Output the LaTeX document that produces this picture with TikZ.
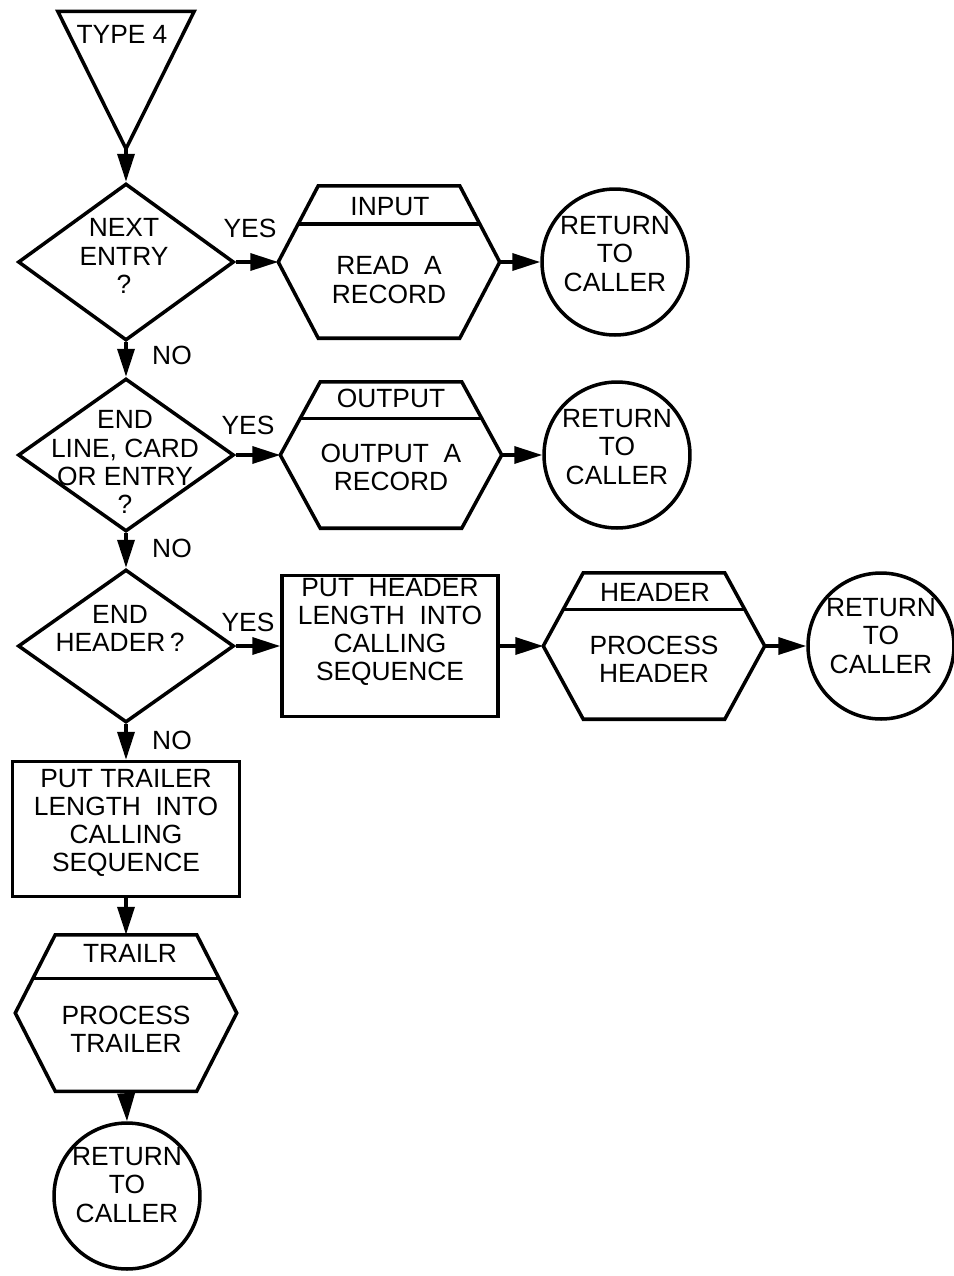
\documentclass[tikz,border=0pt]{standalone}
\usepackage{fontspec}
\setmainfont{Liberation Sans}
\usetikzlibrary{shapes.geometric,arrows.meta,calc}

\begin{document}
\begin{tikzpicture}[x=0.02cm,y=-0.02cm,line width=2pt,
    font=\fontsize{15}{16}\selectfont,
    shell/.style={rectangle,inner sep=0pt},
    decision/.style={diamond,draw,inner sep=0pt,minimum width=4.32cm},
    proc/.style={rectangle,draw,inner sep=0pt},
    ret/.style={circle,draw,inner sep=0pt,minimum size=2.92cm},
    txt/.style={align=center,inner sep=0pt},
    arr/.style={-{Triangle[length=0.56cm,width=0.34cm]}}]
\useasboundingbox (0,0) rectangle (954,1276);

% start
\node[shell,minimum width=2.66cm,minimum height=2.68cm] (t4) at (126,80) {};
\draw (t4.north west) -- (t4.north east) -- (t4.south) -- cycle;
\node[txt] (t4-txt) at (122,34) {TYPE 4};

% decisions
\node[decision,minimum height=3.14cm] (d1) at (126,262) {};
\node[txt] (d1-txt) at (124,256) {NEXT\\ENTRY\\?};
\node[decision,minimum height=3.06cm] (d2) at (126,455) {};
\node[txt] (d2-txt) at (125,462) {END\\LINE, CARD\\OR ENTRY\\?};
\node[decision,minimum height=3.06cm] (d3) at (126,646) {};
\node[txt] (d3-txt) at (120,628) {END\\HEADER\,?};

\node[txt] (yes1) at (250,228) {YES};
\node[txt] (yes2) at (248,425) {YES};
\node[txt] (yes3) at (248,622) {YES};
\node[txt] (no1) at (172,355) {NO};
\node[txt] (no2) at (172,548) {NO};
\node[txt] (no3) at (172,740) {NO};

% input
\node[shell,minimum width=4.36cm,minimum height=2.98cm] (input) at (389,262) {};
\draw (input.west) -- ([xshift=0.8cm]input.north west) -- ([xshift=-0.8cm]input.north east)
  -- (input.east) -- ([xshift=-0.8cm]input.south east) -- ([xshift=0.8cm]input.south west) -- cycle;
\draw ($(input.west)!0.5!([xshift=0.8cm]input.north west)$) -- ($(input.east)!0.5!([xshift=-0.8cm]input.north east)$);
\node[txt] (input-hd) at (390,207) {INPUT};
\node[txt] (input-txt) at (389,280) {READ\ \ A\\RECORD};
\node[ret] (r1) at (615,262) {};
\node[txt] (r1-txt) at (615,254) {RETURN\\TO\\CALLER};

% output
\node[shell,minimum width=4.36cm,minimum height=2.86cm] (output) at (391,455) {};
\draw (output.west) -- ([xshift=0.8cm]output.north west) -- ([xshift=-0.8cm]output.north east)
  -- (output.east) -- ([xshift=-0.8cm]output.south east) -- ([xshift=0.8cm]output.south west) -- cycle;
\draw ($(output.west)!0.5!([xshift=0.8cm]output.north west)$) -- ($(output.east)!0.5!([xshift=-0.8cm]output.north east)$);
\node[txt] (output-hd) at (391,398) {OUTPUT};
\node[txt] (output-txt) at (391,467) {OUTPUT\ \ A\\RECORD};
\node[ret] (r2) at (617,455) {};
\node[txt] (r2-txt) at (617,447) {RETURN\\TO\\CALLER};

% header
\node[proc,minimum width=4.32cm,minimum height=2.82cm] (hdrlen) at (390,646) {};
\node[txt] (hdrlen-txt) at (390,632) {PUT\ \ HEADER\\LENGTH\ \ INTO\\CALLING\\SEQUENCE};
\node[shell,minimum width=4.36cm,minimum height=2.86cm] (header) at (654,646) {};
\draw (header.west) -- ([xshift=0.8cm]header.north west) -- ([xshift=-0.8cm]header.north east)
  -- (header.east) -- ([xshift=-0.8cm]header.south east) -- ([xshift=0.8cm]header.south west) -- cycle;
\draw ($(header.west)!0.5!([xshift=0.8cm]header.north west)$) -- ($(header.east)!0.5!([xshift=-0.8cm]header.north east)$);
\node[txt] (header-hd) at (655,592) {HEADER};
\node[txt] (header-txt) at (654,659) {PROCESS\\HEADER};
\node[ret] (r3) at (881,646) {};
\node[txt] (r3-txt) at (881,636) {RETURN\\TO\\CALLER};

% trailer
\node[proc,minimum width=4.54cm,minimum height=2.7cm] (trllen) at (126,829) {};
\node[txt] (trllen-txt) at (126,823) {PUT TRAILER\\LENGTH\ \ INTO\\CALLING\\SEQUENCE};
\node[shell,minimum width=4.36cm,minimum height=3.06cm] (trailr) at (126,1013) {};
\draw (trailr.west) -- ([xshift=0.8cm]trailr.north west) -- ([xshift=-0.8cm]trailr.north east)
  -- (trailr.east) -- ([xshift=-0.8cm]trailr.south east) -- ([xshift=0.8cm]trailr.south west) -- cycle;
\draw ($(trailr.west)!0.44!([xshift=0.8cm]trailr.north west)$) -- ($(trailr.east)!0.44!([xshift=-0.8cm]trailr.north east)$);
\node[txt] (trailr-hd) at (130,953) {TRAILR};
\node[txt] (trailr-txt) at (126,1029) {PROCESS\\TRAILER};
\node[ret] (r4) at (127,1196) {};
\node[txt] (r4-txt) at (127,1185) {RETURN\\TO\\CALLER};

% flow
\draw[arr] (t4.south) -- (d1.north);
\draw[arr] (d1.east) -- (input.west);
\draw[arr] (input.east) -- (r1.west);
\draw[arr] (d1.south) -- (d2.north);
\draw[arr] (d2.east) -- (output.west);
\draw[arr] (output.east) -- (r2.west);
\draw[arr] (d2.south) -- (d3.north);
\draw[arr] (d3.east) -- (hdrlen.west);
\draw[arr] (hdrlen.east) -- (header.west);
\draw[arr] (header.east) -- (r3.west);
\draw[arr] (d3.south) -- (trllen.north);
\draw[arr] (trllen.south) -- (trailr.north);
\draw[arr] (trailr.south) -- (r4.north);
\end{tikzpicture}
\end{document}
